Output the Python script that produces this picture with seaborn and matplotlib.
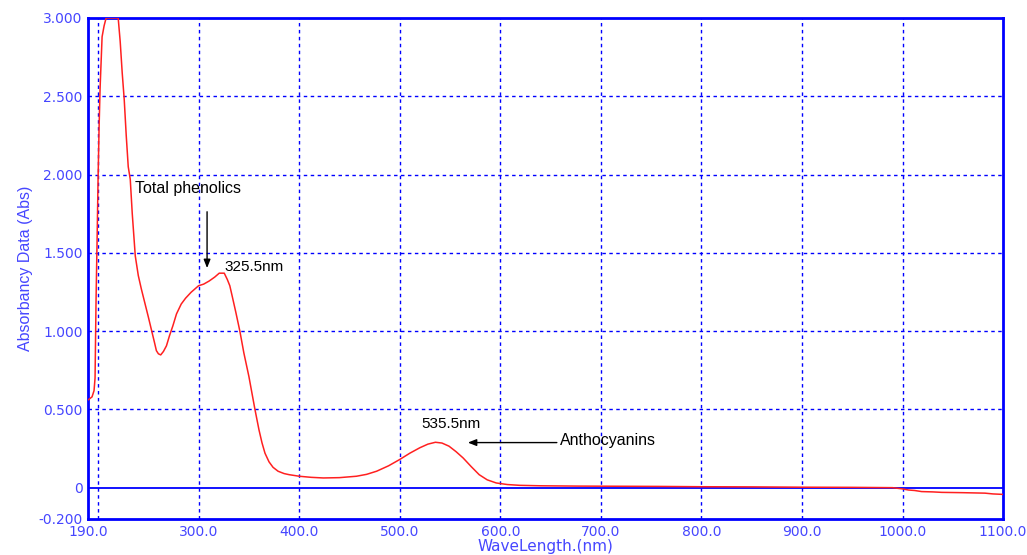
import numpy as np
import pandas as pd
import seaborn as sns
import matplotlib
matplotlib.use("Agg")
import matplotlib.pyplot as plt

# spectrum
wavelength = [190, 192, 194, 196, 197, 198, 199, 200, 201, 202, 204, 206, 208, 212, 216, 220,
              222, 224, 226, 228, 230, 232, 234, 237, 240, 243, 246.5, 250, 253, 256, 258, 260,
              262.3, 265, 268, 271, 274.4, 278, 282.7, 287, 292.5, 300, 305, 310.5, 316, 320.5,
              325.5, 328.5, 331, 333.5, 337, 341, 345, 350, 356, 360, 363, 366, 370, 374, 379,
              385, 390, 400, 412, 424, 440, 457, 467, 477, 489, 500, 510, 520, 528, 535.5, 542,
              549, 556, 563, 571, 579, 587, 596, 607, 619, 640, 678, 720, 758, 800, 850, 900,
              950, 990, 1000, 1006, 1012, 1019, 1030, 1039, 1060, 1082, 1090, 1100]
absorbance = [0.56, 0.57, 0.58, 0.62, 0.70, 1.20, 1.57, 1.97, 2.30, 2.55, 2.88, 2.95, 3.0, 3.0,
              3.0, 3.0, 2.85, 2.65, 2.48, 2.25, 2.05, 1.97, 1.75, 1.48, 1.355, 1.27, 1.18, 1.09,
              1.01, 0.93, 0.875, 0.855, 0.848, 0.87, 0.906, 0.97, 1.034, 1.11, 1.173, 1.21,
              1.248, 1.29, 1.30, 1.32, 1.345, 1.37, 1.37, 1.33, 1.29, 1.22, 1.12, 1.0, 0.86,
              0.71, 0.50, 0.37, 0.287, 0.22, 0.165, 0.13, 0.105, 0.09, 0.083, 0.073, 0.066,
              0.062, 0.064, 0.073, 0.085, 0.105, 0.14, 0.18, 0.22, 0.255, 0.278, 0.29, 0.285,
              0.265, 0.23, 0.19, 0.135, 0.083, 0.05, 0.03, 0.02, 0.015, 0.012, 0.01, 0.009,
              0.008, 0.006, 0.005, 0.003, 0.002, 0.0, -0.008, -0.015, -0.018, -0.025, -0.027,
              -0.03, -0.032, -0.035, -0.04, -0.043]

xtick_vals = [190, 300, 400, 500, 600, 700, 800, 900, 1000, 1100]
xtick_labels = ["190.0", "300.0", "400.0", "500.0", "600.0", "700.0", "800.0", "900.0", "1000.0", "1100.0"]
ytick_vals = [-0.2, 0, 0.5, 1.0, 1.5, 2.0, 2.5, 3.0]
ytick_labels = ["-0.200", "0", "0.500", "1.000", "1.500", "2.000", "2.500", "3.000"]
xgrid_vals = [200, 300, 400, 500, 600, 700, 800, 900, 1000]
ygrid_vals = [0.5, 1.0, 1.5, 2.0, 2.5]

tabela = pd.DataFrame({"wl": wavelength, "abs": absorbance})

sns.set_style("white")
plt.rcParams["font.family"] = ["DejaVu Sans"]

blue = "#0000ff"
txt_blue = "#4646ff"

fig = plt.figure(figsize=(10.27, 5.55), dpi=100)
ax = fig.add_axes([0.0857, 0.0649, 0.891, 0.9027])

# grid lines
for gx in xgrid_vals:
    ax.axvline(gx, color=blue, lw=1.0, ls=(0, (2.5, 2.5)), zorder=1)
for gy in ygrid_vals:
    ax.axhline(gy, color=blue, lw=1.0, ls=(0, (2.5, 2.5)), zorder=1)
ax.axhline(0, color=blue, lw=1.3, zorder=1)

sns.lineplot(data=tabela, x="wl", y="abs", ax=ax, color="#ff2020", lw=1.1, zorder=3)

ax.set_xlim(190, 1100)
ax.set_ylim(-0.2, 3.0)
ax.set_xticks(xtick_vals)
ax.set_xticklabels(xtick_labels)
ax.set_yticks(ytick_vals)
ax.set_yticklabels(ytick_labels)
ax.tick_params(length=0, labelsize=10, colors=txt_blue)
ax.tick_params(axis="x", pad=4)
ax.tick_params(axis="y", pad=4)

for s in ax.spines.values():
    s.set_visible(True)
    s.set_color(blue)
    s.set_linewidth(2)

ax.set_xlabel("")
ax.set_ylabel("Absorbancy Data (Abs)", fontsize=11.5, color=txt_blue, family="Liberation Sans", labelpad=4)
fig.text(0.5314, 0.002, "WaveLength.(nm)", fontsize=11, color=txt_blue, ha="center", va="bottom")

# annotations
ax.text(237, 1.91, "Total phenolics", fontsize=11.5, family="Liberation Sans", color="black",
        va="center", ha="left")
ax.annotate("", xy=(308.4, 1.385), xytext=(308.4, 1.78),
            arrowprops=dict(arrowstyle="-|>,head_length=0.5,head_width=0.2", color="black", lw=1))
ax.text(326, 1.41, "325.5nm", fontsize=11, family="Liberation Sans", color="black",
        va="center", ha="left")
ax.text(521.7, 0.404, "535.5nm", fontsize=11, family="Liberation Sans", color="black",
        va="center", ha="left")
ax.text(659.6, 0.30, "Anthocyanins", fontsize=11.5, family="Liberation Sans", color="black",
        va="center", ha="left")
ax.annotate("", xy=(565, 0.288), xytext=(659, 0.288),
            arrowprops=dict(arrowstyle="-|>,head_length=0.5,head_width=0.2", color="black", lw=1))

plt.savefig("out.png", dpi=100, facecolor="white")
